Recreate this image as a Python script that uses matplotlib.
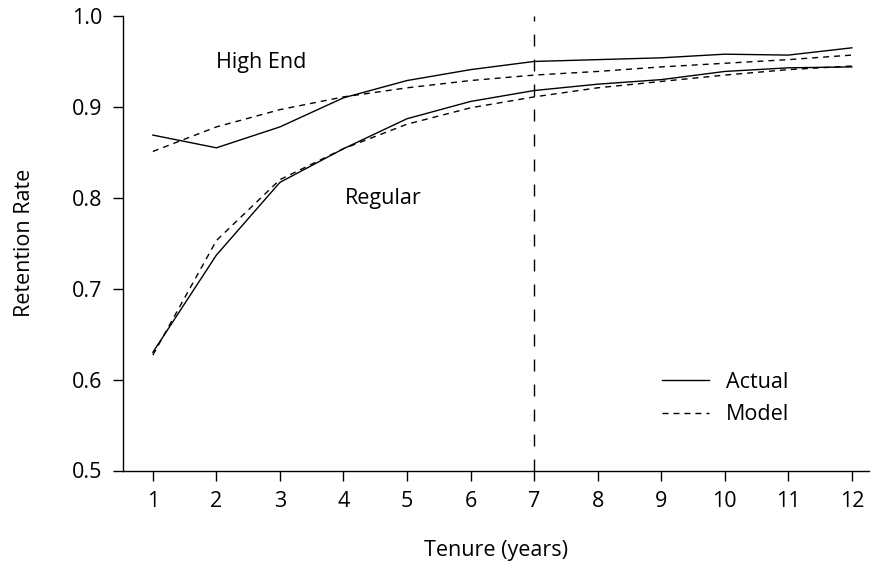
import matplotlib
matplotlib.use("Agg")
import matplotlib.pyplot as plt

plt.rcParams['font.family'] = ['Open Sans', 'DejaVu Sans']

tenure = [1, 2, 3, 4, 5, 6, 7, 8, 9, 10, 11, 12]
high_end_actual = [0.869, 0.855, 0.878, 0.910, 0.929, 0.941, 0.950, 0.952, 0.954, 0.958, 0.957, 0.965]
high_end_model = [0.851, 0.878, 0.897, 0.911, 0.921, 0.929, 0.935, 0.939, 0.944, 0.948, 0.952, 0.957]
regular_actual = [0.630, 0.737, 0.817, 0.854, 0.887, 0.906, 0.918, 0.925, 0.930, 0.939, 0.943, 0.944]
regular_model = [0.627, 0.753, 0.820, 0.854, 0.881, 0.899, 0.911, 0.921, 0.928, 0.935, 0.941, 0.945]
y_ticks = [0.5, 0.6, 0.7, 0.8, 0.9, 1.0]
cutoff_year = 7

FS = 15.5
model_dash = (4.3, 3.6)

fig = plt.figure(figsize=(8.77, 5.69), dpi=100)
ax = fig.add_axes([123/877, 1 - 470.5/569, (869-123)/877, (470.5-16)/569])

ax.plot(tenure, high_end_actual, color='black', lw=1.0, label='Actual')
ax.plot(tenure, high_end_model, color='black', lw=1.0, dashes=model_dash, label='Model')
ax.plot(tenure, regular_actual, color='black', lw=1.0)
ax.plot(tenure, regular_model, color='black', lw=1.0, dashes=model_dash)
ax.axvline(cutoff_year, color='black', lw=1.0, dashes=(8.6, 9.4))

ax.text(2.0, 0.949, 'High End', fontsize=FS, va='center', ha='left')
ax.text(4.02, 0.799, 'Regular', fontsize=FS, va='center', ha='left')

ax.set_xlim(0.53, 12.27)
ax.set_ylim(0.5, 1.0)
ax.set_xticks(tenure)
ax.set_xticklabels([str(t) for t in tenure])
ax.set_yticks(y_ticks)
ax.set_yticklabels([f'{v:.1f}' for v in y_ticks])
ax.tick_params(axis='both', direction='out', length=7, width=1.0, labelsize=FS, pad=8)
for s in ['top', 'right']:
    ax.spines[s].set_visible(False)
for s in ['left', 'bottom']:
    ax.spines[s].set_linewidth(1.0)

ax.set_xlabel('Tenure (years)', fontsize=FS)
ax.xaxis.set_label_coords(0.5, -0.152)
ax.set_ylabel('Retention Rate', fontsize=FS)
ax.yaxis.set_label_coords(-0.118, 0.5)

leg = ax.legend(loc='upper left', bbox_to_anchor=((662-123)/746, (470.5-372)/454.5),
                frameon=False, fontsize=FS, handlelength=2.2, handletextpad=0.78,
                borderpad=0, borderaxespad=0, labelspacing=0.53)

fig.savefig('out.png', dpi=100)
